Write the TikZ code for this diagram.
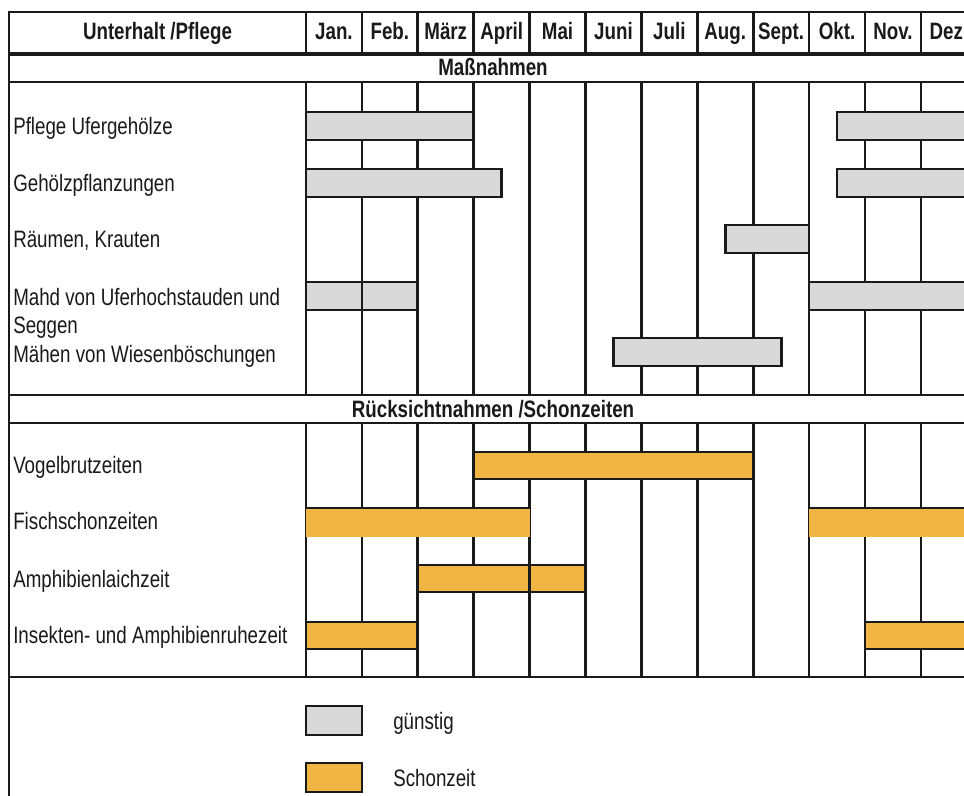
\documentclass[tikz,border=0pt]{standalone}
\usepackage{fontspec}
\setmainfont[FakeStretch=0.79]{Liberation Sans}
\definecolor{ink}{RGB}{26,26,26}
\definecolor{gbar}{RGB}{217,217,217}
\definecolor{obar}{RGB}{241,181,68}
\tikzset{
  gridline/.style={line width=2pt, draw=ink},
  thickline/.style={line width=3pt, draw=ink},
  gbox/.style={line width=2pt, draw=ink, fill=gbar},
  obox/.style={line width=2pt, draw=ink, fill=obar},
  ofill/.style={fill=obar},
  lbl/.style={anchor=base west, inner sep=0pt, text=ink, font=\fontsize{17.8}{21}\selectfont},
  hdr/.style={anchor=base, inner sep=0pt, text=ink, font=\fontsize{17.8}{21}\selectfont\bfseries},
}
\begin{document}
\begin{tikzpicture}[x=0.75pt, y=-0.75pt]
\useasboundingbox (0,0) rectangle (964,796);
\clip (0,0) rectangle (964,796);
\fill[white] (0,0) rectangle (964,796);

% ---------- header row ----------
\foreach \x in {306,361.9,417.8,473.7,529.6,585.5,641.4,697.3,753.2,809.1,865,920.9,976.8}
  \draw[gridline] (\x,12) -- (\x,54);
\node[hdr] (hUP) at (157.5,39) {Unterhalt /Pflege};
\foreach \m [count=\i from 0] in {Jan.,Feb.,März,April,Mai,Juni,Juli,Aug.,Sept.,Okt.,Nov.,Dez.}
  \node[hdr] (m\i) at ({333.95+55.9*\i},39) {\m};

% ---------- body vertical grid ----------
\foreach \x in {306,361.9,417.8,473.7,529.6,585.5,641.4,697.3,753.2,809.1,865,920.9,976.8}{
  \draw[gridline] (\x,82) -- (\x,395);
  \draw[gridline] (\x,423) -- (\x,677);
}

% ---------- horizontal lines ----------
\draw[gridline] (9,12) -- (990,12);
\draw[thickline] (9,54) -- (990,54);
\draw[gridline] (9,82) -- (990,82);
\draw[gridline] (9,395) -- (990,395);
\draw[gridline] (9,423) -- (990,423);
\draw[gridline] (9,677) -- (990,677);
\draw[gridline] (9,11) -- (9,800);

% ---------- section titles ----------
\node[hdr] (sM) at (493,75) {Maßnahmen};
\node[hdr] (sR) at (493,417) {Rücksichtnahmen /Schonzeiten};

% ---------- Maßnahmen ----------
\node[lbl] (l1) at (13,134) {Pflege Ufergehölze};
\draw[gbox] (306,112) rectangle (473.7,140);
\draw[gbox] (837,112) rectangle (990,140);

\node[lbl] (l2) at (13,191) {Gehölzpflanzungen};
\draw[gbox] (306,169) rectangle (501.7,197);
\draw[gbox] (837,169) rectangle (990,197);

\node[lbl] (l3) at (13,247) {Räumen, Krauten};
\draw[gbox] (725.3,225) rectangle (809.1,253);

\node[lbl] (l4) at (13,305) {Mahd von Uferhochstauden und};
\node[lbl] (l4b) at (13,333) {Seggen};
\draw[gbox] (306,282) rectangle (417.8,310);
\draw[gridline] (361.9,282) -- (361.9,310);
\draw[gbox] (809.1,282) rectangle (990,310);

\node[lbl] (l5) at (13,362) {Mähen von Wiesenböschungen};
\draw[gbox] (613.5,338) rectangle (781.2,366);

% ---------- Rücksichtnahmen ----------
\node[lbl] (r1) at (13,473) {Vogelbrutzeiten};
\draw[obox] (473.7,452) rectangle (753.2,479);

\node[lbl] (r2) at (13,529) {Fischschonzeiten};
\fill[ofill] (306,508) rectangle (529.6,537);
\draw[gridline] (306,508) -- (529.6,508);
\fill[ofill] (809.1,508) rectangle (990,537);
\draw[gridline] (809.1,508) -- (990,508);

\node[lbl] (r3) at (13,587) {Amphibienlaichzeit};
\draw[obox] (417.8,565) rectangle (585.5,592);
\draw[gridline] (529.6,565) -- (529.6,592);

\node[lbl] (r4) at (13,643) {Insekten- und Amphibienruhezeit};
\draw[obox] (306,622) rectangle (417.8,649);
\draw[obox] (865,622) rectangle (990,649);

% ---------- legend ----------
\draw[gbox] (306,706) rectangle (361.9,735);
\node[lbl] (lg1) at (393,729) {günstig};
\draw[obox] (306,763) rectangle (361.9,792);
\node[lbl] (lg2) at (393,786) {Schonzeit};
\end{tikzpicture}
\end{document}
